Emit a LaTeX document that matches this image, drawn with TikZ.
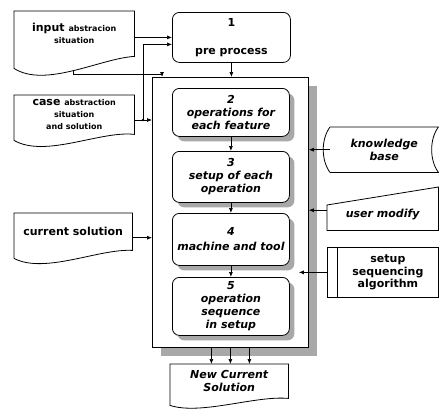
\documentclass[tikz,border=0pt]{standalone}
\usepackage{fontspec}
\setmainfont{DejaVu Sans}
\usetikzlibrary{positioning,arrows.meta,calc,shadows}
\definecolor{shadegray}{HTML}{A8A8A8}
\newcommand{\subtxt}[1]{{\fontsize{8}{12}\selectfont #1}}
% document outline under a node: name, drop of left corner, depth of the wave
\newcommand{\docwave}[3]{%
  \draw[docline] (#1.north west) -- (#1.north east) -- (#1.south east)
    .. controls ($(#1.south east)!0.28!(#1.south west)+(0,#2-10)$)
    and ($(#1.south east)!0.74!(#1.south west)+(0,#2+#3)$)
    .. ($(#1.south west)+(0,#2)$) -- cycle;}
\tikzset{
  docline/.style={line width=0.8pt},
  flow/.style={-{Latex[length=5pt,width=4pt]}, line width=0.7pt},
  docbox/.style={anchor=north west, inner sep=0pt, align=center,
    font=\bfseries\fontsize{11}{12}\selectfont},
  procbox/.style={anchor=north west, draw, fill=white, line width=0.8pt,
    rounded corners=7pt, minimum width=117, inner sep=0pt, align=center,
    font=\bfseries\itshape\fontsize{11}{13}\selectfont,
    drop shadow={shadow xshift=5pt, shadow yshift=-5pt, fill=shadegray, opacity=1}},
  sidebox/.style={anchor=north west, inner sep=0pt, align=center,
    font=\bfseries\fontsize{11}{12.5}\selectfont}
}
\begin{document}
\begin{tikzpicture}[x=1pt, y=-1pt]
  \useasboundingbox (0,0) rectangle (439,410);

  % inputs on the left
  \node[docbox, minimum width=120, minimum height=45] (inp) at (14,11)
    {input \subtxt{abstracion}\\ \subtxt{situation}};
  \docwave{inp}{12}{20}
  \node[docbox, minimum width=120, minimum height=39] (cas) at (14,95)
    {case \subtxt{abstraction}\\ \subtxt{situation}\\ \subtxt{and solution}};
  \docwave{cas}{6}{18}
  \node[docbox, minimum width=118, minimum height=37] (cur) at (14,213)
    {current solution};
  \docwave{cur}{8}{16}

  % process
  \node[anchor=north west, draw, line width=0.8pt, rounded corners=7pt,
    minimum width=118, minimum height=50, align=center,
    font=\bfseries\fontsize{11}{13}\selectfont] (pre) at (172,12) {1\\[15pt]pre process};
  \node[anchor=north west, draw, fill=white, line width=0.8pt,
    minimum width=156, minimum height=270,
    drop shadow={shadow xshift=9pt, shadow yshift=-9pt, fill=shadegray, opacity=1}]
    (plan) at (152,77) {};
  \node[procbox, minimum height=48] (b2) at (172,88) {2\\operations for\\each feature};
  \node[procbox, minimum height=51] (b3) at (172,151) {3\\setup of each\\operation};
  \node[procbox, minimum height=52] (b4) at (172,213) {4\\[2pt]machine and tool};
  \node[procbox, minimum height=58] (b5) at (172,277) {5\\operation\\sequence\\in setup};

  % result
  \node[docbox, font=\bfseries\itshape\fontsize{11}{13}\selectfont,
    minimum width=118, minimum height=34] (newsol) at (170,364) {New Current\\Solution};
  \docwave{newsol}{7}{10}

  % resources on the right
  \node[sidebox, font=\bfseries\itshape\fontsize{11}{13}\selectfont,
    minimum width=108, minimum height=45] (kb) at (330,127) {knowledge\\base};
  \draw[docline] (kb.north west) -- (kb.north east)
    .. controls ($(kb.north east)+(-9,12)$) and ($(kb.south east)+(-9,-12)$) .. (kb.south east)
    -- (kb.south west)
    .. controls ($(kb.south west)+(-9,-12)$) and ($(kb.north west)+(-9,12)$) .. (kb.north west);
  \node[sidebox, font=\bfseries\itshape\fontsize{11}{13}\selectfont,
    minimum width=111, minimum height=31] (um) at (327,199) {user modify};
  \draw[docline] (um.south west) -- ($(um.north west)+(0,6)$)
    -- ($(um.north east)+(0,-12)$) -- (um.south east) -- cycle;
  \node[sidebox, draw, line width=0.8pt, minimum width=101, minimum height=50] (ssa)
    at (337,247) {setup\\sequencing\\algorithm};
  \draw[docline] ([xshift=-10pt]ssa.north west) rectangle (ssa.south west);

  % connectors
  \coordinate (casjoin) at (143,120);
  \coordinate (inpfoot) at (73,70);
  \draw[flow] (inp.east |- pre.west) -- (pre.west);
  \draw[line width=0.7pt] (cas.east |- casjoin) -- (casjoin);
  \draw[flow] (casjoin) |- ($(pre.west)+(0,7)$);
  \draw[flow] (casjoin) -- (casjoin -| plan.west);
  \fill (casjoin) circle[radius=1.4pt];
  \draw[flow] (inpfoot) -- ++(0,4) -| ($(plan.north west)+(10,0)$);
  \draw[flow] (pre.south) -- (pre.south |- plan.north);
  \draw[flow] (b2.south) -- (b3.north);
  \draw[flow] (b3.south) -- (b4.north);
  \draw[flow] (b4.south) -- (b5.north);
  \draw[flow] ([yshift=-6pt]cur.east) -- ([yshift=-6pt]cur.east -| plan.west);
  \draw[flow] (kb.west) -- (kb.west -| plan.east);
  \draw[flow] ([yshift=4.5pt]um.west) -- ([yshift=4.5pt]um.west -| plan.east);
  \draw[flow] ([xshift=-10pt]ssa.west) -- ([xshift=-10pt]ssa.west -| plan.east);
  \foreach \dx in {-19,0,19}
    \draw[flow] ([xshift=\dx pt]plan.south) -- ([xshift=\dx pt]plan.south |- newsol.north);
\end{tikzpicture}
\end{document}
